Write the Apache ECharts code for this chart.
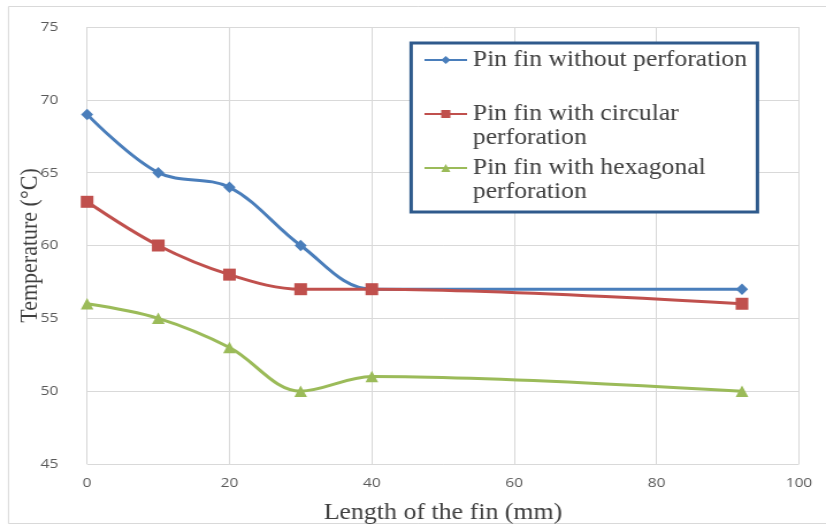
<!DOCTYPE html>
<html>
<head>
<meta charset="utf-8">
<script src="https://cdn.jsdelivr.net/npm/echarts@6/dist/echarts.min.js"></script>
<style>
  html, body { margin: 0; padding: 0; background: #fff; overflow: hidden; }
  /* The figure is drawn slightly narrower and widened to 826px */
  #chart { width: 718px; height: 526px; transform: scaleX(1.1504); transform-origin: 0 0; }
</style>
</head>
<body>
<div id="chart"></div>
<script>
// Fin length (mm) at each measuring point
const lengths = [0, 10, 20, 30, 40, 92];

// Temperatures (°C) per fin design
const noPerforation = [69, 65, 64, 60, 57, 57];
const circularPerforation = [63, 60, 58, 57, 57, 56];
const hexagonalPerforation = [56, 55, 53, 50, 51, 50];

const seriesNames = [
  'Pin fin without perforation',
  'Pin fin with circular perforation',
  'Pin fin with hexagonal perforation'
];
// Wrapped legend text; a leading blank line keeps the icon level with the first line
const legendLabels = {
  'Pin fin without perforation': 'Pin fin without perforation',
  'Pin fin with circular perforation': ' \nPin fin with circular\nperforation',
  'Pin fin with hexagonal perforation': ' \nPin fin with hexagonal\nperforation'
};

const xTicks = { min: 0, max: 100, interval: 20 };
const yTicks = { min: 45, max: 75, interval: 5 };

const colors = ['#4A7EBB', '#C0504D', '#9BBB59'];
const serif = '"Liberation Serif", "Times New Roman", serif';
const sans = '"Open Sans", "Liberation Sans", sans-serif';

function pairs(ys) { return lengths.map((x, i) => [x, ys[i]]); }

const chart = echarts.init(document.getElementById('chart'), null, { renderer: 'canvas' });

function legendAt(name, top) {
  return {
    data: [name],
    left: 368,
    top: top,
    z: 10,
    padding: 0,
    orient: 'vertical',
    itemWidth: 37,
    itemHeight: 10,
    itemGap: 0,
    selectedMode: false,
    formatter: n => legendLabels[n],
    textStyle: {
      fontFamily: serif,
      fontSize: 22.3,
      color: '#404040',
      lineHeight: 24
    }
  };
}

chart.setOption({
  animation: false,
  backgroundColor: '#fff',
  grid: { left: 75.7, right: 23.5, top: 27, bottom: 62, outerBoundsMode: 'none' },
  xAxis: {
    type: 'value',
    min: xTicks.min, max: xTicks.max, interval: xTicks.interval,
    name: 'Length of the fin (mm)',
    nameLocation: 'middle',
    nameGap: 38,
    nameMoveOverlap: false,
    nameTextStyle: { fontFamily: serif, fontSize: 22.5, color: '#404040' },
    axisLine: { show: false },
    axisTick: { show: false },
    axisLabel: { fontFamily: sans, fontSize: 13.5, color: '#595959', margin: 12 },
    splitLine: { lineStyle: { color: '#D9D9D9', width: 1 } }
  },
  yAxis: {
    type: 'value',
    min: yTicks.min, max: yTicks.max, interval: yTicks.interval,
    name: 'Temperature (°C)',
    nameLocation: 'middle',
    nameGap: 38,
    nameMoveOverlap: false,
    nameRotate: 90,
    nameTextStyle: { fontFamily: serif, fontSize: 22, color: '#404040' },
    axisLine: { show: false },
    axisTick: { show: false },
    axisLabel: { fontFamily: sans, fontSize: 13.5, color: '#595959', margin: 25 },
    splitLine: { lineStyle: { color: '#D9D9D9', width: 1 } }
  },
  legend: [
    legendAt(seriesNames[0], 48),
    legendAt(seriesNames[1], 78),
    legendAt(seriesNames[2], 132)
  ],
  graphic: [
    {
      type: 'rect', z: 0, silent: true,
      shape: { x: 7.4, y: 6.5, width: 730, height: 517 },
      style: { fill: 'none', stroke: '#D9D9D9', lineWidth: 1 }
    },
    {
      type: 'rect', z: 1, silent: true,
      shape: { x: 357.4, y: 43, width: 301, height: 169 },
      style: { fill: '#fff', stroke: '#2F5A8C', lineWidth: 3 }
    }
  ],
  series: [
    {
      name: seriesNames[0], type: 'line', smooth: 0.35,
      data: pairs(noPerforation),
      symbol: 'diamond', symbolSize: [10.5, 11.5],
      color: colors[0],
      lineStyle: { width: 3, color: colors[0] },
      itemStyle: { color: colors[0] }
    },
    {
      name: seriesNames[1], type: 'line', smooth: 0.35,
      data: pairs(circularPerforation),
      symbol: 'rect', symbolSize: [11, 12],
      color: colors[1],
      lineStyle: { width: 3, color: colors[1] },
      itemStyle: { color: colors[1] }
    },
    {
      name: seriesNames[2], type: 'line', smooth: 0.35,
      data: pairs(hexagonalPerforation),
      symbol: 'triangle', symbolSize: [11, 11.5],
      color: colors[2],
      lineStyle: { width: 3, color: colors[2] },
      itemStyle: { color: colors[2] }
    }
  ]
});
</script>
</body>
</html>
